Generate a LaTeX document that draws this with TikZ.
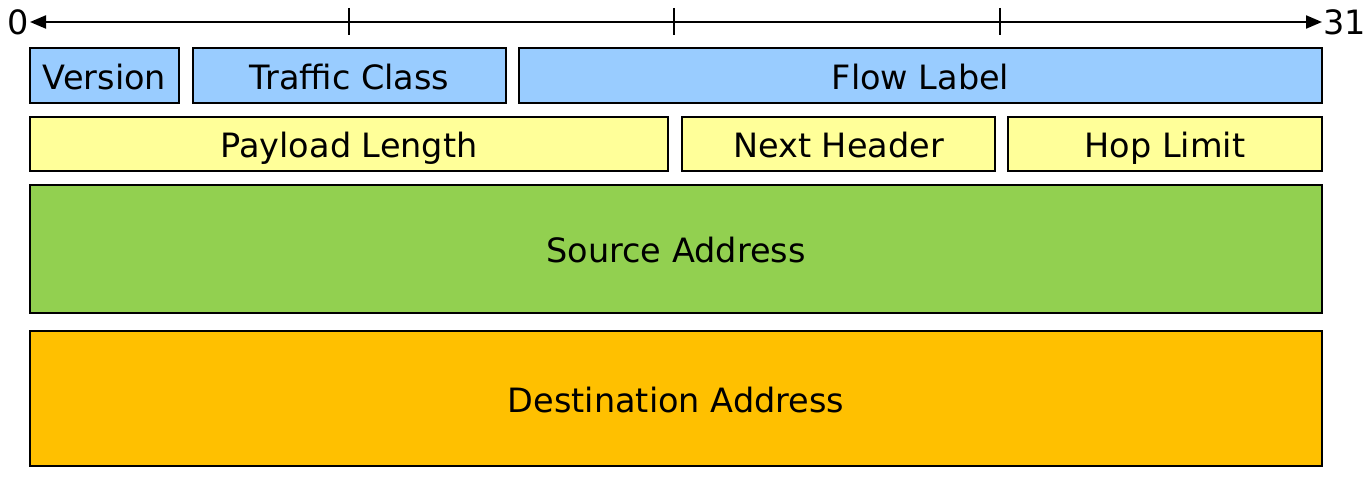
\documentclass[tikz,border=0pt]{standalone}
\usepackage{fontspec}
\setmainfont{DejaVu Sans}
\usepackage{xcolor}
\usetikzlibrary{positioning, calc, arrows.meta}

\definecolor{hdrblue}{HTML}{99CCFF}
\definecolor{hdryellow}{HTML}{FFFF99}
\definecolor{hdrgreen}{HTML}{92D050}
\definecolor{hdrorange}{HTML}{FFC000}

\begin{document}
\begin{tikzpicture}[x=1pt, y=-1pt,
    field/.style={draw, line width=1.5pt},
    fieldtext/.style={font=\fontsize{33.5}{40}\selectfont, text height=27.6pt, text depth=0pt, inner sep=0pt},
    bitlabel/.style={font=\fontsize{33.5}{40}\selectfont, inner sep=1pt}]
    \useasboundingbox (0,0) rectangle (1372,478);
    % bit axis
    \coordinate (b0) at (30,22);
    \coordinate (b31) at (1322,22);
    \draw[{Triangle[length=16pt,width=13pt]}-{Triangle[length=16pt,width=13pt]}, line width=2pt] (b0) -- (b31);
    \node[bitlabel, anchor=east] (zero) at (b0) {0};
    \node[bitlabel, anchor=west] (thirtyone) at (b31) {31};
    \foreach \x in {349,674,1000}
        \draw[line width=1.5pt] (\x,8) -- (\x,35);
    % first row
    \draw[field, fill=hdrblue] (30,48) rectangle (179,103) node[midway, fieldtext] (version) {Version};
    \draw[field, fill=hdrblue] (193,48) rectangle (506,103) node[midway, fieldtext] (traffic) {Traffic Class};
    \draw[field, fill=hdrblue] (519,48) rectangle (1322,103) node[midway, fieldtext] (flow) {Flow Label};
    % second row
    \draw[field, fill=hdryellow] (30,117) rectangle (668,171) node[midway, fieldtext] (payload) {Payload Length};
    \draw[field, fill=hdryellow] (682,117) rectangle (995,171) node[midway, fieldtext] (next) {Next Header};
    \draw[field, fill=hdryellow] (1008,117) rectangle (1322,171) node[midway, fieldtext] (hop) {Hop Limit};
    % addresses
    \draw[field, fill=hdrgreen] (30,185) rectangle (1322,313) node[midway, fieldtext] (src) {Source Address};
    \draw[field, fill=hdrorange] (30,331) rectangle (1322,466) node[midway, fieldtext] (dst) {Destination Address};
\end{tikzpicture}
\end{document}
